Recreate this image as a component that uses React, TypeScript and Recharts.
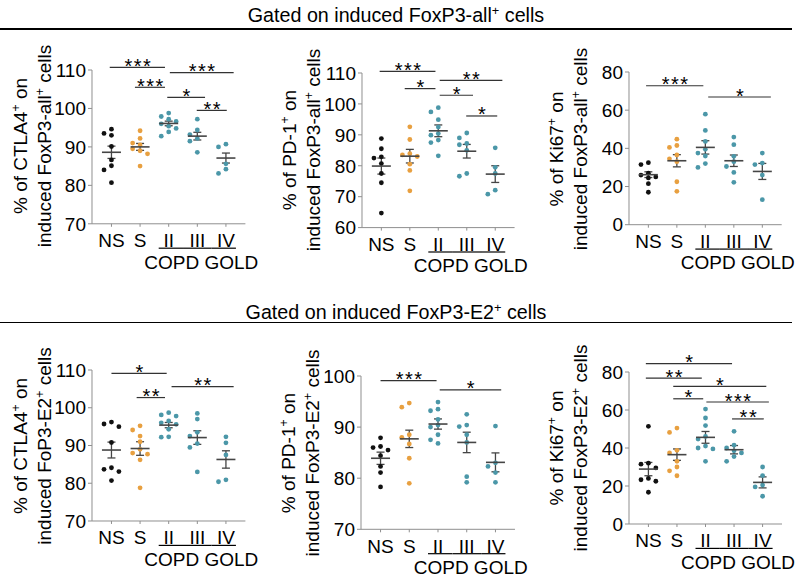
import React from 'react';
import { ComposedChart, Scatter, XAxis, YAxis, ReferenceLine, ErrorBar } from 'recharts';

// ---------- categories & colours ----------
const groups = ['NS', 'S', 'II', 'III', 'IV'];
const groupColors = ['#111111', '#E8A040', '#4B97A8', '#4B97A8', '#4B97A8'];

// ---------- panel 1: CTLA4+ on induced FoxP3-all+ ----------
const ctla4AllValues = [
  [94.6, 93.5, 93.0, 90.1, 86.6, 85.1, 84.0, 80.7],
  [94.2, 92.2, 91.0, 90.5, 89.5, 89.0, 88.2, 85.0],
  [98.8, 97.9, 97.2, 96.6, 96.0, 95.4, 94.8, 93.9, 92.8],
  [97.2, 94.4, 93.2, 92.2, 91.5, 88.6],
  [90.7, 90.0, 85.6, 84.2, 83.1],
];
const ctla4AllMeans = [88.6, 90.0, 96.1, 92.8, 87.1];
const ctla4AllSems = [1.6, 0.9, 0.6, 1.0, 1.3];
const ctla4AllSig: [number, number, number, string][] = [
  [-0.06, 1.87, 110.7, '***'],
  [0.82, 1.87, 105.5, '***'],
  [2.04, 4.27, 109.3, '***'],
  [1.95, 3.27, 102.9, '*'],
  [2.98, 4.03, 99.5, '**'],
];

// ---------- panel 2: PD-1+ on induced FoxP3-all+ ----------
const pd1AllValues = [
  [88.8, 85.5, 82.9, 82.5, 80.7, 77.5, 74.5, 64.7],
  [92.6, 88.5, 83.9, 83.5, 83.0, 80.5, 78.5, 71.9],
  [98.8, 97.4, 94.9, 92.5, 90.4, 89.9, 88.3, 87.5, 83.2],
  [90.6, 89.0, 87.2, 86.8, 85.0, 77.5, 76.6],
  [85.8, 79.5, 77.5, 72.1, 70.8],
];
const pd1AllMeans = [79.9, 83.1, 91.3, 84.7, 77.3];
const pd1AllSems = [2.6, 2.2, 1.9, 2.2, 2.7];
const pd1AllSig: [number, number, number, string][] = [
  [-0.06, 1.9, 110.55, '***'],
  [0.82, 1.9, 104.95, '*'],
  [2.05, 4.25, 107.6, '**'],
  [2.05, 3.22, 102.8, '*'],
  [2.98, 4.07, 96.1, '*'],
];

// ---------- panel 3: Ki67+ on induced FoxP3-all+ ----------
const ki67AllValues = [
  [32.5, 31.5, 27, 26, 25, 24.5, 21.5, 17],
  [44.8, 41.5, 40.5, 36.5, 34.5, 33, 22.5, 17.5],
  [57.9, 49.4, 43.6, 39.5, 37.5, 36, 32, 30],
  [45.9, 41.9, 35.8, 33, 30.5, 27.4, 22.2],
  [37.5, 32.3, 31.5, 26, 13.1],
];
const ki67AllMeans = [26.2, 33.5, 40.5, 33.5, 27.9];
const ki67AllSems = [1.5, 3.2, 3.5, 3.0, 4.2];
const ki67AllSig: [number, number, number, string][] = [
  [-0.08, 1.93, 72.8, '***'],
  [2.1, 4.3, 66.9, '*'],
];

// ---------- panel 4: CTLA4+ on induced FoxP3-E2+ ----------
const ctla4E2Values = [
  [96.2, 95.7, 95.0, 90.8, 84.1, 83.7, 83.1, 80.7],
  [95.2, 94.1, 92.5, 91.0, 89.0, 88.0, 87.7, 86.2, 78.8],
  [98.7, 98.1, 97.8, 96.5, 96.0, 95.6, 94.3, 92.3, 92.2],
  [98.5, 97.0, 93.5, 92.5, 90.5, 89.5, 83.0],
  [92.3, 90.7, 87.5, 80.9, 80.4],
];
const ctla4E2Means = [88.8, 89.2, 95.4, 92.1, 86.3];
const ctla4E2Sems = [2.1, 1.8, 0.7, 1.8, 2.3];
const ctla4E2Sig: [number, number, number, string][] = [
  [0, 1.93, 109.1, '*'],
  [0.88, 1.87, 102.7, '**'],
  [2.1, 4.27, 105.6, '**'],
];

// ---------- panel 5: PD-1+ on induced FoxP3-E2+ ----------
const pd1E2Values = [
  [87.9, 86.2, 86.0, 85.5, 84.4, 82.3, 81.1, 78.3],
  [94.7, 93.9, 88.5, 88.0, 86.7, 83.9, 79.0],
  [94.9, 93.5, 93.2, 91.5, 90.4, 90.0, 88.5, 87.5, 86.8],
  [92.5, 90.4, 90.1, 88.5, 87.0, 80.3, 79.2],
  [90.2, 83.0, 82.3, 81.1, 79.2],
];
const pd1E2Means = [83.9, 87.7, 90.6, 87.0, 83.1];
const pd1E2Sems = [1.2, 1.7, 1.0, 2.0, 1.85];
const pd1E2Sig: [number, number, number, string][] = [
  [0, 1.95, 99.1, '***'],
  [2.06, 4.2, 97.3, '*'],
];

// ---------- panel 6: Ki67+ on induced FoxP3-E2+ ----------
const ki67E2Values = [
  [51.4, 32, 31.5, 29.5, 24, 23.3, 22.5, 16.7],
  [50.5, 48.2, 38.8, 37.4, 33, 30, 28, 25.4],
  [60.5, 55.8, 51.8, 46.1, 44.7, 41.0, 40.0, 39.5, 33.0],
  [48.8, 41.5, 40.0, 38.5, 37.4, 35.5, 33.0],
  [30.0, 25.5, 20.5, 19.5, 14.6],
];
const ki67E2Means = [28.9, 36.5, 45.6, 39.1, 21.9];
const ki67E2Sems = [3.5, 3.0, 3.1, 2.2, 2.9];
const ki67E2Sig: [number, number, number, string][] = [
  [-0.09, 2.93, 84.4, '*'],
  [-0.09, 1.87, 76.8, '**'],
  [0.87, 4.13, 72.4, '*'],
  [0.87, 1.92, 65.9, '*'],
  [2.03, 4.22, 64.2, '***'],
  [2.93, 4.04, 55.3, '**'],
];

// ---------- axis ticks ----------
const ticks70to110 = [70, 80, 90, 100, 110];
const ticks60to110 = [60, 70, 80, 90, 100, 110];
const ticks0to80 = [0, 20, 40, 60, 80];
const ticks70to100 = [70, 80, 90, 100];

// ---------- titles ----------
const titleTop = ['Gated on induced FoxP3-all', ' cells'];
const titleBottom = ['Gated on induced FoxP3-E2', ' cells'];

type Sig = [number, number, number, string];
interface PanelCfg {
  values: number[][];
  means: number[];
  sems: number[];
  sig: Sig[];
  domain: [number, number];
  ticks: number[];
  line1: [string, string];
  line2: [string, string];
}

const panels: PanelCfg[] = [
  { values: ctla4AllValues, means: ctla4AllMeans, sems: ctla4AllSems, sig: ctla4AllSig, domain: [70, 110], ticks: ticks70to110, line1: ['% of CTLA4', ' on'], line2: ['induced FoxP3-all', ' cells'] },
  { values: pd1AllValues, means: pd1AllMeans, sems: pd1AllSems, sig: pd1AllSig, domain: [60, 110], ticks: ticks60to110, line1: ['% of PD-1', ' on'], line2: ['induced FoxP3-all', ' cells'] },
  { values: ki67AllValues, means: ki67AllMeans, sems: ki67AllSems, sig: ki67AllSig, domain: [0, 80], ticks: ticks0to80, line1: ['% of Ki67', ' on'], line2: ['induced FoxP3-all', ' cells'] },
  { values: ctla4E2Values, means: ctla4E2Means, sems: ctla4E2Sems, sig: ctla4E2Sig, domain: [70, 110], ticks: ticks70to110, line1: ['% of CTLA4', ' on'], line2: ['induced FoP3-E2', ' cells'] },
  { values: pd1E2Values, means: pd1E2Means, sems: pd1E2Sems, sig: pd1E2Sig, domain: [70, 100], ticks: ticks70to100, line1: ['% of PD-1', ' on'], line2: ['induced FoxP3-E2', ' cells'] },
  { values: ki67E2Values, means: ki67E2Means, sems: ki67E2Sems, sig: ki67E2Sig, domain: [0, 80], ticks: ticks0to80, line1: ['% of Ki67', ' on'], line2: ['induced FoxP3-E2', ' cells'] },
];

// ---------- layout (pixel boxes of each plot area) ----------
const boxes = [
  { axisX: 92.3, rightX: 245.7, topY: 69.5, bottomY: 223.3 },
  { axisX: 361.7, rightX: 514.3, topY: 72.7, bottomY: 227.3 },
  { axisX: 629, rightX: 781.7, topY: 72.3, bottomY: 225 },
  { axisX: 92.3, rightX: 245.7, topY: 370, bottomY: 521 },
  { axisX: 361, rightX: 515, topY: 376, bottomY: 529.3 },
  { axisX: 629, rightX: 782, topY: 372.3, bottomY: 524.3 },
];

const FONT = 'Arial, "Liberation Sans", Helvetica, sans-serif';
const AXIS_GREY = '#8f8f8f';
const MEAN_GREY = '#454545';

function swarm(vals: number[], span: number): number[] {
  const thr = span * 0.034;
  const offs = [0, -0.26, 0.26, -0.45, 0.45];
  const placed: [number, number][] = [];
  return vals.map((v) => {
    for (const o of offs) {
      if (!placed.some(([px, py]) => Math.abs(py - v) < thr && Math.abs(px - o) < 0.2)) {
        placed.push([o, v]);
        return o;
      }
    }
    placed.push([0, v]);
    return 0;
  });
}

const Sup = () => (
  <span style={{ fontSize: '0.65em', position: 'relative', top: '-0.55em' }}>+</span>
);

const CatTick = (props: any) => {
  const { x, y, payload } = props;
  const i = Math.round(payload.value);
  return (
    <g>
      <text x={x} y={y} dy="0.71em" textAnchor="middle" fontSize={19} fill="#000">
        {groups[i]}
      </text>
      {i >= 2 && (
        <line
          x1={x - (i === 2 ? 10 : 14.3)}
          x2={x + (i === 4 ? 10 : 14.3)}
          y1={y + 14.4}
          y2={y + 14.4}
          stroke="#000"
          strokeWidth={1.2}
        />
      )}
      {i === 3 && (
        <text x={x + 4} y={y + 34.8} textAnchor="middle" fontSize={19} fill="#000">
          COPD GOLD
        </text>
      )}
    </g>
  );
};

const MeanShape = (p: any) => (
  <line x1={p.cx - 9.5} x2={p.cx + 9.5} y1={p.cy} y2={p.cy} stroke={MEAN_GREY} strokeWidth={1.6} />
);

function Panel({ cfg, box }: { cfg: PanelCfg; box: typeof boxes[number] }) {
  const { axisX, rightX, topY, bottomY } = box;
  const YW = 60, MT = 40, XH = 62, MR = 24;
  const width = rightX - axisX + YW + MR;
  const height = bottomY - topY + MT + XH;
  const span = cfg.domain[1] - cfg.domain[0];
  const dots = cfg.values.map((vals, g) => {
    const offs = swarm(vals, span);
    return vals.map((v, k) => ({ x: g + offs[k], y: v }));
  });
  const meanData = cfg.means.map((m, i) => ({ x: i, y: m, sem: cfg.sems[i] }));
  return (
    <div style={{ position: 'absolute', left: axisX - YW, top: topY - MT, width, height }}>
      <ComposedChart width={width} height={height} margin={{ top: MT, right: MR, left: 0, bottom: 0 }}>
        <XAxis
          type="number"
          dataKey="x"
          domain={[-0.68, 4.68]}
          ticks={[0, 1, 2, 3, 4]}
          interval={0}
          tick={<CatTick />}
          tickSize={3}
          tickMargin={7}
          height={XH}
          stroke={AXIS_GREY}
        />
        <YAxis
          type="number"
          dataKey="y"
          domain={cfg.domain}
          ticks={cfg.ticks}
          interval={0}
          width={YW}
          tickSize={4}
          tickMargin={2}
          stroke={AXIS_GREY}
          tick={{ fill: '#000', fontSize: 19 }}
        />
        {dots.map((d, g) => (
          <Scatter
            key={g}
            data={d}
            isAnimationActive={false}
            shape={(p: any) => <circle cx={p.cx} cy={p.cy} r={2.4} fill={groupColors[g]} />}
          />
        ))}
        <Scatter data={meanData} isAnimationActive={false} shape={MeanShape}>
          <ErrorBar dataKey="sem" direction="y" width={4} stroke={MEAN_GREY} strokeWidth={1.3} />
        </Scatter>
        {cfg.sig.map((s, k) => (
          <ReferenceLine
            key={k}
            ifOverflow="visible"
            segment={[{ x: s[0], y: s[2] }, { x: s[1], y: s[2] }]}
            stroke="#333"
            strokeWidth={1.2}
            label={(p: any) => {
              const vb = p.viewBox || {};
              return (
                <text
                  x={(vb.x ?? 0) + (vb.width ?? 0) / 2 + 1}
                  y={(vb.y ?? 0) + 5.5}
                  textAnchor="middle"
                  fontSize={20}
                  letterSpacing={1.5}
                  fill="#000"
                >
                  {s[3]}
                </text>
              );
            }}
          />
        ))}
      </ComposedChart>
    </div>
  );
}

function YLabel({ cfg, box }: { cfg: PanelCfg; box: typeof boxes[number] }) {
  const cx = box.axisX - 61.8;
  const cy = (box.topY + box.bottomY) / 2;
  const W = 280, H = 42;
  return (
    <div
      style={{
        position: 'absolute',
        left: cx - W / 2,
        top: cy - H / 2,
        width: W,
        height: H,
        transform: 'rotate(-90deg)',
        textAlign: 'center',
        fontSize: 19,
        lineHeight: '21px',
        whiteSpace: 'nowrap',
      }}
    >
      <div>
        {cfg.line1[0]}
        <Sup />
        {cfg.line1[1]}
      </div>
      <div>
        {cfg.line2[0]}
        <Sup />
        {cfg.line2[1]}
      </div>
    </div>
  );
}

function Title({ parts, top, lineTop }: { parts: string[]; top: number; lineTop: number }) {
  return (
    <>
      <div
        style={{
          position: 'absolute',
          left: 0,
          top,
          width: 792,
          textAlign: 'center',
          fontSize: 19.7,
          lineHeight: '22px',
          whiteSpace: 'nowrap',
        }}
      >
        {parts[0]}
        <Sup />
        {parts[1]}
      </div>
      <div style={{ position: 'absolute', left: 0, top: lineTop, width: 792, height: 1.4, background: '#000' }} />
    </>
  );
}

export default function App() {
  return (
    <div
      style={{
        position: 'absolute',
        left: 0,
        top: 0,
        width: 802,
        height: 580,
        background: '#fff',
        fontFamily: FONT,
        color: '#000',
        overflow: 'hidden',
      }}
    >
      <Title parts={titleTop} top={4.2} lineTop={28.4} />
      <Title parts={titleBottom} top={300.8} lineTop={322} />
      {panels.map((cfg, i) => (
        <Panel key={i} cfg={cfg} box={boxes[i]} />
      ))}
      {panels.map((cfg, i) => (
        <YLabel key={'l' + i} cfg={cfg} box={boxes[i]} />
      ))}
    </div>
  );
}
